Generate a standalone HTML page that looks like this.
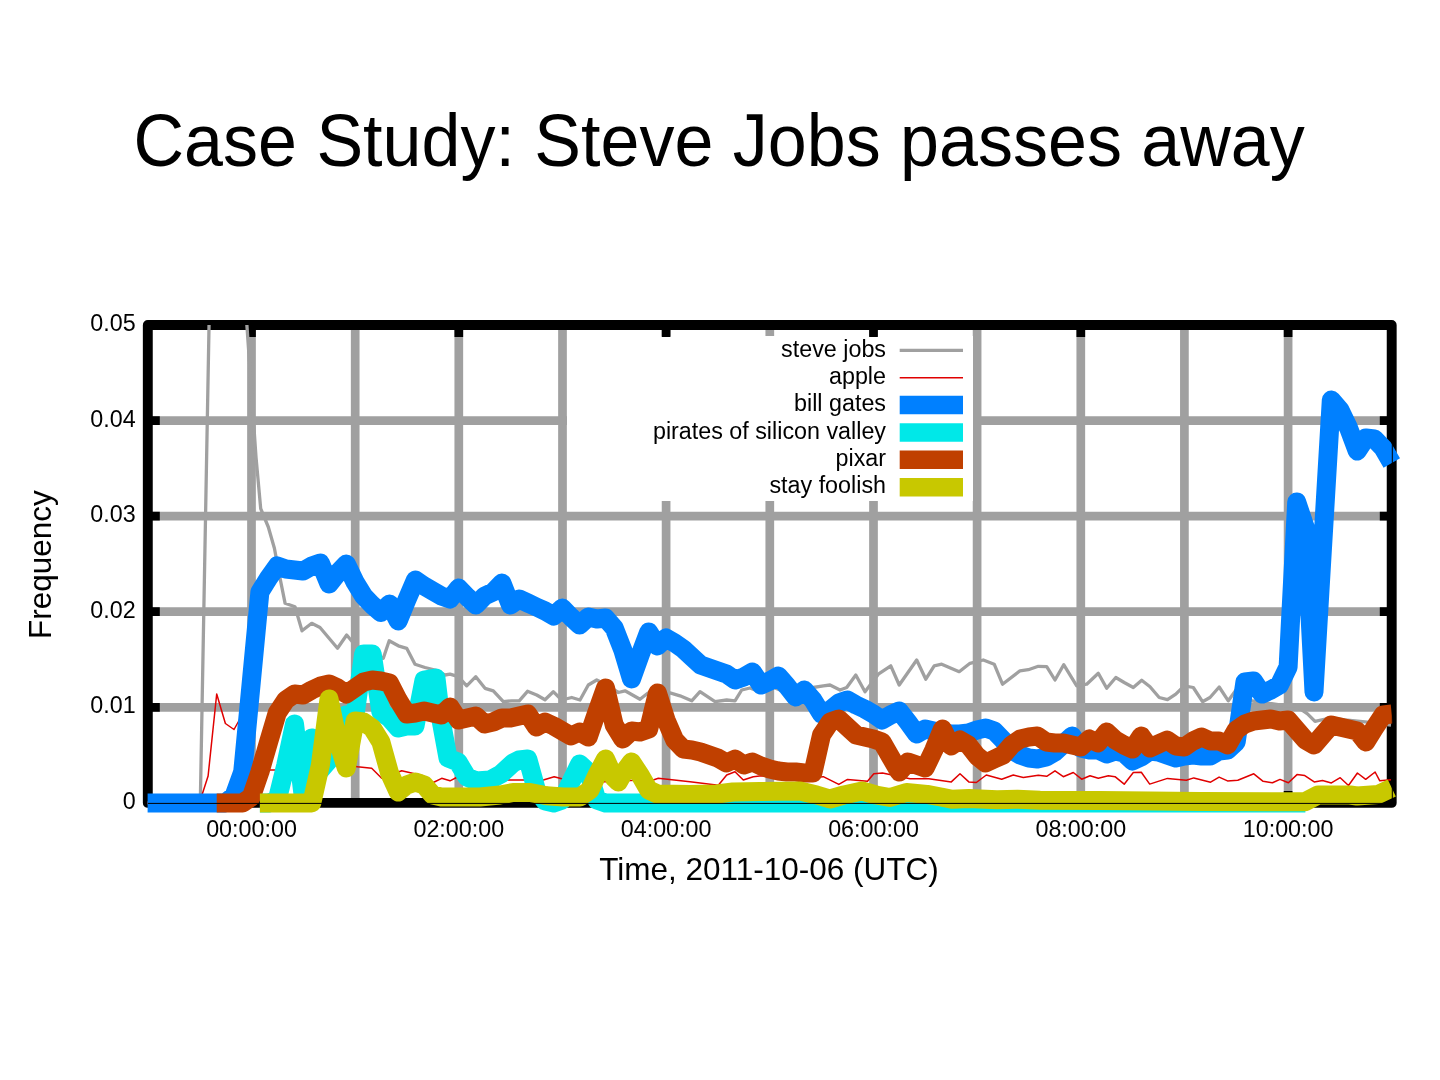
<!DOCTYPE html><html><head><meta charset="utf-8"><style>
html,body{margin:0;padding:0;background:#fff;width:1440px;height:1080px;overflow:hidden}
svg{display:block;will-change:transform}
text{font-family:"Liberation Sans",sans-serif;fill:#000}
</style></head><body>
<svg width="1440" height="1080" viewBox="0 0 1440 1080">
<text x="133.5" y="165.5" font-size="74.5" textLength="1171.3" lengthAdjust="spacingAndGlyphs">Case Study: Steve Jobs passes away</text>
<path d="M251.5 325.0V802.9M355.2 325.0V802.9M458.8 325.0V802.9M562.5 325.0V802.9M666.1 325.0V802.9M769.8 325.0V802.9M873.5 325.0V802.9M977.1 325.0V802.9M1080.8 325.0V802.9M1184.4 325.0V802.9M1288.1 325.0V802.9M147.8 707.3H1391.8M147.8 611.7H1391.8M147.8 516.2H1391.8M147.8 420.6H1391.8" stroke="#a0a0a0" stroke-width="8.7" fill="none"/>
<rect x="567" y="336" width="406" height="165" fill="#fff"/>
<path d="M251.5 325.0v12M251.5 802.9v-12M458.8 325.0v12M458.8 802.9v-12M666.1 325.0v12M666.1 802.9v-12M873.5 325.0v12M873.5 802.9v-12M1080.8 325.0v12M1080.8 802.9v-12M1288.1 325.0v12M1288.1 802.9v-12M147.8 707.3h12M1391.8 707.3h-12M147.8 611.7h12M1391.8 611.7h-12M147.8 516.2h12M1391.8 516.2h-12M147.8 420.6h12M1391.8 420.6h-12" stroke="#000" stroke-width="8.7" fill="none"/>
<rect x="147.8" y="325.0" width="1243.9" height="477.9" fill="none" stroke="#000" stroke-width="9.9" stroke-linejoin="round"/>
<clipPath id="pc"><rect x="127.8" y="325.0" width="1283.9" height="517.9"/></clipPath>
<g clip-path="url(#pc)">
<path d="M147.6,802.9 200.3,802.9 210.6,240.0 241.0,240.0 256.0,457.0 260.7,508.6 268.3,527.0 274.4,548.3 280.0,578.0 285.1,603.3 295.0,606.7 302.0,630.8 311.7,623.3 320.0,627.5 337.5,648.3 346.7,635.0 355.0,645.0 363.6,650.0 372.2,655.0 383.3,658.3 389.2,640.8 398.3,645.8 406.7,648.3 415.0,664.2 425.0,667.5 435.0,670.0 445.0,675.0 450.0,674.2 458.3,676.7 466.7,685.8 475.8,676.7 485.0,688.3 493.3,690.8 503.3,701.7 511.7,700.8 519.2,700.8 527.5,691.3 536.7,695.0 545.0,699.7 553.3,691.7 561.7,700.0 571.7,697.5 580.0,700.0 588.3,685.0 596.7,680.0 605.0,684.0 618.3,692.5 625.0,690.8 640.0,699.2 648.0,693.0 660.0,690.0 671.7,693.3 680.0,695.8 691.7,700.8 700.0,691.7 715.0,701.7 726.7,700.0 735.0,700.8 741.7,690.0 750.0,688.0 760.0,692.0 770.0,686.0 780.0,690.0 790.0,685.0 800.0,688.0 810.0,688.0 823.3,685.8 830.0,685.0 840.0,690.0 846.7,687.5 855.8,675.0 865.0,691.7 878.3,674.2 890.8,665.8 899.2,685.0 916.7,660.0 925.8,679.2 934.2,665.8 941.7,664.2 959.2,671.7 970.0,663.3 983.3,660.0 994.2,664.2 1002.5,684.2 1020.0,670.8 1028.3,669.7 1038.3,666.3 1046.7,666.7 1055.0,680.0 1063.7,664.7 1076.7,685.8 1086.7,684.2 1098.3,673.3 1106.7,688.3 1115.8,677.5 1124.2,682.5 1133.3,687.5 1141.7,680.3 1150.0,686.7 1159.2,697.5 1167.5,699.7 1175.8,694.2 1184.2,685.8 1193.3,687.5 1202.5,701.7 1210.0,697.5 1219.2,687.0 1228.3,700.8 1236.0,690.0 1245.0,700.0 1260.0,702.0 1280.0,705.0 1296.0,706.0 1307.5,713.8 1315.0,721.3 1330.0,718.0 1345.0,720.0 1365.0,721.9 1391.0,725.0" stroke="#a0a0a0" stroke-width="3.3" fill="none" stroke-linejoin="round" stroke-linecap="butt"/>
<path d="M147.6,802.9 199.4,802.9 208.1,776.0 216.7,694.0 225.4,723.5 234.0,729.5 242.7,714.0 251.3,760.0 259.9,770.0 268.6,770.0 277.2,770.0 285.8,768.0 303.1,768.0 320.4,766.0 329.0,764.0 337.7,763.0 346.3,765.0 357.5,766.7 371.7,768.3 381.7,778.3 401.7,770.8 423.3,775.8 433.3,782.5 441.7,778.3 450.0,780.8 457.5,777.0 470.0,779.0 490.0,781.0 505.0,780.0 518.3,780.0 543.3,780.0 554.2,776.7 561.7,778.7 580.0,780.0 600.0,782.0 620.0,781.0 640.0,780.0 653.3,780.0 658.3,778.3 690.0,781.7 718.3,785.3 726.7,775.0 735.0,771.7 743.3,780.0 753.3,776.7 761.7,775.8 775.0,778.0 790.0,777.0 805.0,778.0 823.3,776.7 838.8,784.4 847.5,779.4 867.5,781.3 873.8,773.8 882.5,773.1 910.0,778.8 928.8,778.8 951.3,781.9 960.0,773.8 968.8,781.9 976.3,782.5 986.3,775.0 1001.7,779.2 1013.3,775.0 1023.3,777.5 1038.3,775.3 1046.7,776.3 1055.0,770.8 1063.3,776.7 1073.3,772.5 1081.7,779.2 1090.0,775.8 1098.3,778.3 1108.3,775.8 1115.0,776.7 1124.2,784.2 1133.3,772.5 1141.3,772.3 1149.7,784.1 1167.5,778.4 1186.3,780.3 1193.8,777.9 1210.6,782.2 1219.1,777.1 1227.5,780.9 1237.8,780.3 1253.8,773.8 1263.1,781.3 1272.5,782.8 1280.0,779.4 1288.4,782.8 1297.0,774.6 1304.8,775.6 1314.2,781.9 1322.5,780.6 1331.4,782.9 1340.2,777.7 1348.5,785.5 1357.4,773.0 1365.7,779.3 1375.1,772.0 1379.8,780.8 1391.0,779.8" stroke="#e00000" stroke-width="1.5" fill="none" stroke-linejoin="round" stroke-linecap="butt"/>
<path d="M147.6,802.9 225.4,802.9 234.0,796.0 242.7,772.0 251.3,682.0 259.9,592.0 268.6,578.0 277.2,566.0 285.8,569.0 294.5,570.0 303.1,571.0 311.8,566.0 320.4,563.0 329.0,584.0 337.7,573.0 346.3,564.0 355.0,582.0 363.6,596.0 372.2,605.0 380.9,612.5 389.5,604.0 398.2,621.0 406.8,600.0 415.4,580.0 424.1,586.0 432.7,591.0 441.4,596.0 450.0,599.0 458.6,588.0 467.3,597.0 475.9,605.0 484.6,596.0 493.2,592.0 501.9,583.0 510.5,605.0 519.1,599.0 527.8,603.0 536.4,607.0 545.1,611.0 553.7,616.0 562.3,608.0 571.0,617.0 579.6,625.0 588.3,617.0 596.9,619.0 605.5,618.0 614.2,628.0 622.8,650.0 631.5,679.0 640.1,655.0 648.7,632.0 657.4,646.0 666.0,638.0 674.7,643.0 683.3,649.0 691.9,657.0 700.6,665.0 709.2,668.0 717.8,671.0 726.5,674.0 735.1,680.0 743.8,677.0 752.4,672.0 761.0,685.0 769.7,681.0 778.3,676.0 787.0,686.0 795.6,697.0 804.2,690.0 812.9,700.0 821.5,714.0 830.2,710.0 838.8,703.0 847.4,700.0 856.1,705.0 864.7,709.0 873.4,714.0 882.0,720.0 890.6,715.0 899.3,711.0 907.9,722.0 916.6,734.0 925.2,729.0 933.8,731.0 942.5,733.0 951.1,734.0 959.8,734.0 968.4,733.0 977.0,730.0 985.7,728.0 994.3,731.0 1003.0,740.0 1011.6,750.0 1020.2,755.0 1028.9,758.0 1037.5,759.0 1046.2,757.0 1054.8,752.0 1063.4,744.0 1072.1,736.0 1080.7,748.0 1089.4,750.0 1098.0,750.0 1106.6,754.0 1115.3,751.0 1123.9,753.0 1132.6,761.0 1141.2,757.0 1149.8,751.0 1158.5,752.0 1167.1,755.0 1175.8,758.0 1184.4,756.0 1193.0,755.0 1201.7,756.0 1210.3,756.0 1219.0,751.0 1227.6,750.0 1236.2,742.0 1244.9,682.0 1253.5,681.0 1262.1,694.0 1270.8,690.0 1279.4,685.0 1288.1,667.0 1296.7,502.0 1305.4,528.0 1314.0,692.0 1322.6,546.0 1331.3,400.0 1339.9,410.0 1348.6,428.0 1357.2,451.0 1365.8,438.0 1374.5,439.0 1383.1,448.0 1391.8,463.0" stroke="#0080ff" stroke-width="19.0" fill="none" stroke-linejoin="round" stroke-linecap="butt"/>
<path d="M259.9,802.9 268.6,802.9 277.2,800.0 285.8,765.0 294.5,724.0 303.1,795.0 311.8,738.0 320.4,770.0 329.0,760.0 337.7,735.0 346.3,715.0 355.0,715.0 363.6,654.0 372.2,654.0 380.9,712.0 389.5,718.0 398.2,728.0 406.8,726.0 415.0,726.0 424.0,680.0 436.0,678.0 441.0,720.0 448.0,758.0 458.0,762.0 467.0,777.0 476.0,781.0 490.0,780.0 501.0,774.0 513.0,763.0 519.0,760.0 527.8,759.0 536.4,790.0 545.1,801.0 553.7,802.9 562.3,800.0 579.6,764.0 588.3,772.0 596.9,800.0 605.5,802.9 1305.4,802.9" stroke="#00e8e8" stroke-width="19.0" fill="none" stroke-linejoin="round" stroke-linecap="butt"/>
<path d="M216.7,802.9 242.7,802.9 251.3,797.0 259.9,772.0 268.6,742.0 277.2,713.0 285.8,700.0 294.5,694.0 303.1,695.0 311.8,690.0 320.4,686.0 329.0,684.0 337.7,688.0 346.3,694.0 355.0,688.0 363.6,682.0 372.2,680.0 380.9,681.0 389.5,683.0 398.2,700.0 406.8,714.0 415.4,713.0 424.1,711.0 432.7,713.0 441.4,715.0 450.0,707.0 458.6,720.0 467.3,718.0 475.9,716.0 484.6,724.0 493.2,722.0 501.9,718.0 510.5,718.0 519.1,716.0 527.8,714.0 536.4,727.0 545.1,722.0 553.7,726.0 562.3,731.0 571.0,736.0 579.6,732.0 588.3,737.0 596.9,712.0 605.5,688.0 614.2,725.0 622.8,739.0 631.5,731.0 640.1,732.0 648.7,729.0 657.4,693.0 666.0,720.0 674.7,740.0 683.3,749.0 691.9,750.0 700.6,752.0 709.2,755.0 717.8,758.0 726.5,763.0 735.1,759.0 743.8,765.0 752.4,762.0 761.0,766.0 769.7,769.0 778.3,771.0 787.0,772.0 795.6,772.0 804.2,773.0 812.9,773.0 821.5,735.0 830.2,722.0 838.8,719.0 847.4,727.0 856.1,735.0 864.7,737.0 873.4,739.0 882.0,742.0 890.6,757.0 899.3,772.0 907.9,762.0 916.6,765.0 925.2,768.0 933.8,750.0 942.5,729.0 951.1,746.0 959.8,740.0 968.4,745.0 977.0,756.0 985.7,763.0 994.3,759.0 1003.0,755.0 1011.6,745.0 1020.2,739.0 1028.9,737.0 1037.5,736.0 1046.2,742.0 1054.8,743.0 1063.4,743.0 1072.1,745.0 1080.7,747.0 1089.4,739.0 1098.0,743.0 1106.6,732.0 1115.3,740.0 1123.9,745.0 1132.6,749.0 1141.2,736.0 1149.8,748.0 1158.5,744.0 1167.1,740.0 1175.8,746.0 1184.4,747.0 1193.0,741.0 1201.7,737.0 1210.3,741.0 1219.0,741.0 1227.6,745.0 1236.2,730.0 1244.9,724.0 1253.5,721.0 1262.1,720.0 1270.8,719.0 1279.4,721.0 1288.1,720.0 1296.7,730.0 1305.4,740.0 1314.0,745.0 1322.6,735.0 1331.3,725.0 1339.9,727.0 1348.6,729.0 1357.2,731.0 1365.8,742.0 1374.5,728.0 1383.1,715.0 1391.8,714.0" stroke="#c04000" stroke-width="19.0" fill="none" stroke-linejoin="round" stroke-linecap="butt"/>
<path d="M259.9,802.9 311.8,802.9 320.4,765.0 329.0,699.0 337.7,740.0 346.3,768.0 355.0,721.0 363.6,722.0 372.2,728.0 380.9,742.0 389.5,773.0 398.2,792.0 406.8,785.0 415.4,782.0 424.1,785.0 432.7,795.0 441.4,797.0 460.0,797.0 480.0,797.0 500.0,795.0 513.0,792.5 530.0,792.5 546.7,795.8 563.0,797.0 580.0,797.0 590.0,790.0 597.0,775.0 605.5,759.0 614.2,778.0 618.3,782.0 624.0,772.0 631.5,762.0 640.1,775.0 648.7,790.0 657.4,794.0 690.0,794.5 717.0,794.0 733.0,792.0 760.0,791.5 800.0,791.0 816.7,795.0 830.0,799.0 843.9,795.0 862.0,791.0 876.0,795.0 890.0,797.5 906.4,792.5 927.0,794.4 941.0,797.0 952.0,799.3 969.0,798.6 997.0,799.7 1017.5,799.2 1040.0,800.2 1100.0,800.5 1200.0,801.5 1305.0,801.7 1318.0,795.0 1350.0,795.0 1357.0,796.0 1378.0,794.5 1391.8,788.0" stroke="#c8c800" stroke-width="19.0" fill="none" stroke-linejoin="round" stroke-linecap="butt"/>
</g>
<path d="M147.8 803.4H1392.3V325.0" stroke="#000" stroke-width="1.0" fill="none"/>
<text x="135.6" y="808.9" font-size="23.3" text-anchor="end">0</text>
<text x="135.6" y="713.3" font-size="23.3" text-anchor="end">0.01</text>
<text x="135.6" y="617.7" font-size="23.3" text-anchor="end">0.02</text>
<text x="135.6" y="522.2" font-size="23.3" text-anchor="end">0.03</text>
<text x="135.6" y="426.6" font-size="23.3" text-anchor="end">0.04</text>
<text x="135.6" y="331.0" font-size="23.3" text-anchor="end">0.05</text>
<text x="251.5" y="837" font-size="23.3" text-anchor="middle">00:00:00</text>
<text x="458.8" y="837" font-size="23.3" text-anchor="middle">02:00:00</text>
<text x="666.1" y="837" font-size="23.3" text-anchor="middle">04:00:00</text>
<text x="873.5" y="837" font-size="23.3" text-anchor="middle">06:00:00</text>
<text x="1080.8" y="837" font-size="23.3" text-anchor="middle">08:00:00</text>
<text x="1288.1" y="837" font-size="23.3" text-anchor="middle">10:00:00</text>
<text x="769" y="880" font-size="31.5" text-anchor="middle">Time, 2011-10-06 (UTC)</text>
<text transform="translate(51.3,564.6) rotate(-90)" font-size="31.5" text-anchor="middle">Frequency</text>
<text x="886" y="356.5" font-size="23.3" text-anchor="end">steve jobs</text>
<path d="M899.7 350.3H963" stroke="#a0a0a0" stroke-width="3.3"/>
<text x="886" y="383.9" font-size="23.3" text-anchor="end">apple</text>
<path d="M899.7 377.7H963" stroke="#e00000" stroke-width="1.4"/>
<text x="886" y="411.3" font-size="23.3" text-anchor="end">bill gates</text>
<path d="M899.7 405.1H963" stroke="#0080ff" stroke-width="18.5"/>
<text x="886" y="438.6" font-size="23.3" text-anchor="end">pirates of silicon valley</text>
<path d="M899.7 432.4H963" stroke="#00e8e8" stroke-width="18.5"/>
<text x="886" y="466.0" font-size="23.3" text-anchor="end">pixar</text>
<path d="M899.7 459.8H963" stroke="#c04000" stroke-width="18.5"/>
<text x="886" y="493.4" font-size="23.3" text-anchor="end">stay foolish</text>
<path d="M899.7 487.2H963" stroke="#c8c800" stroke-width="18.5"/>
</svg></body></html>
